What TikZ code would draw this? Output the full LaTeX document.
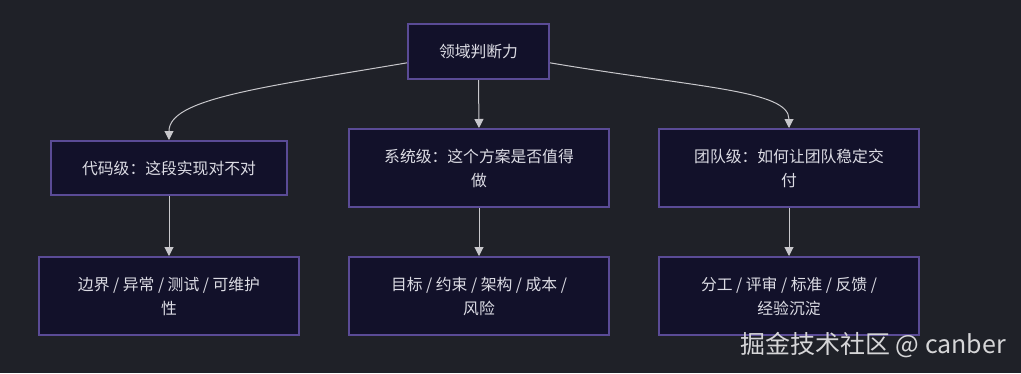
\documentclass[tikz,border=0pt]{standalone}
\usepackage{fontspec}
\setmainfont{Noto Sans CJK SC}
\usetikzlibrary{arrows.meta}
\definecolor{bg}{HTML}{1F2128}
\definecolor{boxfill}{HTML}{12112A}
\definecolor{boxline}{HTML}{5A4B96}
\definecolor{txt}{HTML}{DCDCE4}
\definecolor{arrc}{HTML}{C8C8CC}
\definecolor{wm}{HTML}{D6D6D8}
\tikzset{
  boxnode/.style={draw=boxline, fill=boxfill, line width=2pt, text=txt,
    align=center, inner sep=0pt, font=\fontsize{15.8}{24}\selectfont},
  arr/.style={draw=arrc, line width=1pt, -{Triangle[length=9pt,width=9pt]}}
}
\begin{document}
\begin{tikzpicture}[x=1pt,y=-1pt]
\fill[bg] (0,0) rectangle (1021,373);
\useasboundingbox (0,0) rectangle (1021,373);
\node[boxnode, minimum width=141pt, minimum height=55pt] (root) at (478.5,51.5) {领域判断力};
\node[boxnode, minimum width=236pt, minimum height=54pt] (code) at (169,168) {代码级：这段实现对不对};
\node[boxnode, minimum width=260pt, minimum height=78pt] (sys) at (479,168) {系统级：这个方案是否值得\\做};
\node[boxnode, minimum width=260pt, minimum height=78pt] (team) at (789,168) {团队级：如何让团队稳定交\\付};
\node[boxnode, minimum width=260pt, minimum height=78pt] (codeb) at (169,296) {边界 / 异常 / 测试 / 可维护\\性};
\node[boxnode, minimum width=260pt, minimum height=78pt] (sysb) at (479,296) {目标 / 约束 / 架构 / 成本 /\\风险};
\node[boxnode, minimum width=260pt, minimum height=78pt] (teamb) at (789,296) {分工 / 评审 / 标准 / 反馈 /\\经验沉淀};
\draw[arr] (root.189) .. controls +(-148,25) and +(0,-41) .. (code.north);
\draw[arr] (root.south) -- (sys.north);
\draw[arr] (root.-9) .. controls +(148,25) and +(0,-38) .. (team.north);
\draw[arr] (code.south) -- (codeb.north);
\draw[arr] (sys.south) -- (sysb.north);
\draw[arr] (team.south) -- (teamb.north);
\node[anchor=east, text=wm, inner sep=0pt, font=\fontsize{25}{30}\selectfont] (wmark) at (1006,345) {掘金技术社区 @ canber};
\end{tikzpicture}
\end{document}
